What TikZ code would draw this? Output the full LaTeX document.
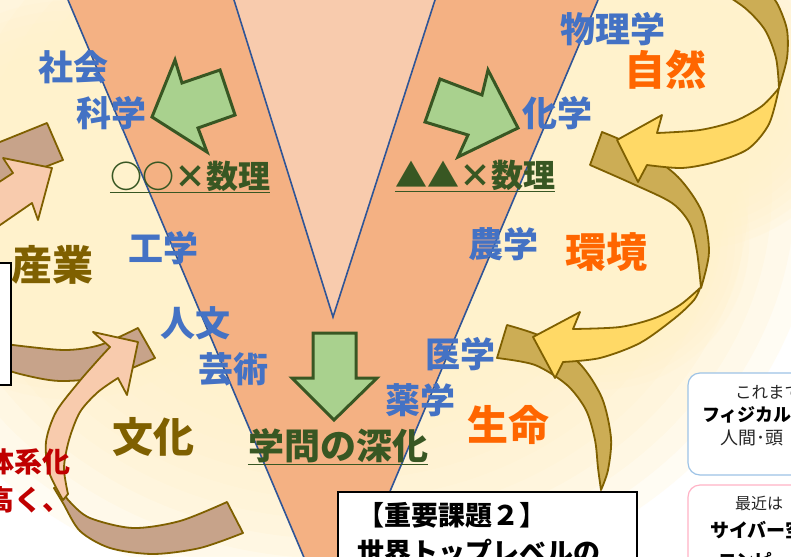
\documentclass[tikz,border=0pt]{standalone}
\usepackage{fontspec}
\newfontfamily\jp{Noto Sans CJK JP}
\definecolor{cream}{HTML}{FFF2CC}
\definecolor{outerv}{HTML}{F4B183}
\definecolor{innerv}{HTML}{F8CBAD}
\definecolor{vline}{HTML}{2F5597}
\definecolor{garrow}{HTML}{A9D18E}
\definecolor{gline}{HTML}{385723}
\definecolor{peach}{HTML}{F8CBAD}
\definecolor{brownb}{HTML}{C7A38A}
\definecolor{ribline}{HTML}{7F6000}
\definecolor{ylw}{HTML}{FFD966}
\definecolor{dgold}{HTML}{CCAD55}
\definecolor{bluet}{HTML}{4472C4}
\definecolor{oranget}{HTML}{FF6600}
\definecolor{goldt}{HTML}{7F6000}
\definecolor{redt}{HTML}{C00000}
\definecolor{boxblue}{HTML}{9DC3E6}
\definecolor{boxpink}{HTML}{FFB3C6}
\definecolor{darkt}{HTML}{262626}
\newcommand\bgglow[3]{%
  \foreach \k in {1,...,12}{%
    \fill[cream, opacity=0.22] (#1) ellipse [x radius={#2*(0.42+0.048*\k)*1pt}, y radius={#3*(0.42+0.048*\k)*1pt}];%
  }%
}
\tikzset{
  lbl/.style={inner sep=0pt, text=bluet, font=\jp\bfseries\fontsize{35}{35}\selectfont},
  bigw/.style={inner sep=0pt, font=\jp\bfseries\fontsize{41}{41}\selectfont},
  grn/.style={inner sep=0pt, text=gline, font=\jp\bfseries\fontsize{32}{32}\selectfont},
  redw/.style={inner sep=0pt, text=redt, font=\jp\bfseries\fontsize{28}{28}\selectfont},
  boxw/.style={inner sep=0pt, text=black, font=\jp\bfseries\fontsize{27}{27}\selectfont},
  smallw/.style={inner sep=0pt, text=darkt, font=\jp\fontsize{16}{16}\selectfont},
  midw/.style={inner sep=0pt, text=black, font=\jp\bfseries\fontsize{18}{18}\selectfont},
  ribbon/.style={draw=ribline, line width=1.8pt, line join=round},
  garr/.style={fill=garrow, draw=gline, line width=3pt, line join=miter},
  vedge/.style={draw=vline, line width=1.6pt},
  uline/.style={draw=gline, line width=1.8pt},
}
\begin{document}
\begin{tikzpicture}[x=1pt,y=-1pt]
\useasboundingbox (0,0) rectangle (791,556);
\clip (0,0) rectangle (791,556);
\fill[white] (0,0) rectangle (791,556);
% background glows
\bgglow{340,190}{480}{410}
\bgglow{70,200}{200}{200}
\bgglow{690,90}{170}{160}
\bgglow{600,240}{150}{150}

% V shapes
\fill[outerv] (68,0) -- (333,626) -- (598,0) -- cycle;
\draw[vedge] (68,0) -- (333,626) -- (598,0);
\fill[innerv] (234,0) -- (333,317) -- (435,0) -- cycle;
\draw[vedge] (234,0) -- (333,317) -- (435,0);

% green arrows
\filldraw[garr] (152,117) -- (175,60) -- (182,83) -- (220,70) -- (235,115) -- (198,128) -- (207,152) -- cycle;
\filldraw[garr] (518,128) -- (488,70) -- (482,95) -- (440,79) -- (425,122) -- (468,135) -- (458,157) -- cycle;
\filldraw[garr] (313,333) -- (356,333) -- (356,378) -- (377,378) -- (334,420) -- (292,378) -- (313,378) -- cycle;

% left ribbons
\filldraw[ribbon, fill=brownb] (-10,146) -- (47,123) -- (63,160) -- (-10,188) -- cycle;
\filldraw[ribbon, fill=peach] (-10,188) -- (13,173) -- (3,158) -- (52,168) -- (38,220) -- (32,203) -- (-10,232) -- cycle;
\filldraw[ribbon, fill=brownb] plot[smooth] coordinates {(-10,342) (30,347) (67,350) (100,345) (138,328)} -- (155,358) -- plot[smooth] coordinates {(155,358) (110,376) (60,381) (20,374) (-10,364)} -- cycle;
\filldraw[ribbon, fill=brownb] plot[smooth] coordinates {(58,486) (70,502) (90,518) (133,528) (180,521) (227,502)} -- (243,533) -- plot[smooth] coordinates {(243,533) (200,548) (153,554) (110,548) (80,531) (63,503) (54,488)} -- cycle;
\filldraw[ribbon, fill=peach] plot[smooth] coordinates {(63,500) (49,472) (46,442) (56,412) (78,383) (98,360) (110,347)} -- (93,332) -- (138,342) -- (127,395) -- (118,378) -- plot[smooth] coordinates {(118,378) (98,392) (80,412) (69,440) (64,468) (68,494)} -- cycle;

% right ribbons
\filldraw[ribbon, fill=dgold] plot[smooth] coordinates {(715,-12) (745,8) (765,30) (776,58) (779,88)} -- plot[smooth] coordinates {(779,88) (787,58) (787,30) (778,5) (766,-12)} -- cycle;
\filldraw[ribbon, fill=dgold] plot[smooth] coordinates {(602,132) (640,149) (678,177) (702,212) (709,252) (701,288)} -- plot[smooth] coordinates {(701,288) (697,252) (690,224) (672,203) (633,184) (590,165)} -- cycle;
\filldraw[ribbon, fill=ylw] plot[smooth] coordinates {(779,88) (762,106) (735,121) (700,130) (657,133)} -- (662,115) -- (617,140) -- (638,182) -- (647,165) -- plot[smooth] coordinates {(647,165) (682,168) (715,162) (748,149) (769,124) (779,88)} -- cycle;
\filldraw[ribbon, fill=dgold] plot[smooth] coordinates {(507,325) (545,338) (580,364) (602,398) (611,438) (608,470) (601,490)} -- plot[smooth] coordinates {(601,490) (598,468) (595,440) (586,410) (567,385) (535,365) (497,358)} -- cycle;
\filldraw[ribbon, fill=ylw] plot[smooth] coordinates {(700,288) (680,305) (655,318) (620,327) (573,329)} -- (580,312) -- (533,337) -- (555,378) -- (563,362) -- plot[smooth] coordinates {(563,362) (600,358) (640,343) (675,318) (694,300) (700,288)} -- cycle;

% boxes
\filldraw[fill=white, draw=black, line width=1.5pt] (-5,263) rectangle (11,385);
\filldraw[fill=white, draw=black, line width=2pt] (338,492) rectangle (637,600);
\filldraw[fill=white, draw=boxblue, line width=1.2pt, rounded corners=12pt] (688,373) rectangle (840,475);
\filldraw[fill=white, draw=boxpink, line width=1.2pt, rounded corners=12pt] (688,485) rectangle (840,620);

% labels
\node[lbl] (sha) at (73,67) {社会};
\node[lbl] (kag) at (111,113) {科学};
\node[lbl] (kou) at (163,248) {工学};
\node[lbl] (jin) at (195,323) {人文};
\node[lbl] (gei) at (233,369) {芸術};
\node[lbl] (igaku) at (460,354) {医学};
\node[lbl] (yaku) at (420,400) {薬学};
\node[lbl] (butsu) at (613,29) {物理学};
\node[lbl] (kagaku) at (557,113) {化学};
\node[lbl] (nou) at (503,244) {農学};

\node[bigw, text=goldt] (sangyo) at (52,265) {産業};
\node[bigw, text=goldt] (bunka) at (153,437) {文化};
\node[bigw, text=oranget] (seimei) at (508,425) {生命};
\node[bigw, text=oranget] (shizen) at (665,70) {自然};
\node[bigw, text=oranget] (kankyo) at (606,252) {環境};

\node[grn] (m1) at (190,176) {○○\makebox[1em]{×}数理};
\draw[uline] ([yshift=-1pt]m1.south west) -- ([yshift=-1pt]m1.south east);
\node[grn] (m2) at (475,175) {▲▲\makebox[1em]{×}数理};
\draw[uline] ([yshift=-1pt]m2.south west) -- ([yshift=-1pt]m2.south east);
\node[grn, font=\jp\bfseries\fontsize{36}{36}\selectfont] (gaku) at (338,446) {学問の深化};
\draw[uline] ([yshift=-1pt]gaku.south west) -- ([yshift=-1pt]gaku.south east);

\node[redw, anchor=east] (red1) at (71,462) {体系化};
\node[redw, anchor=east] (red2) at (71,500) {高く、};

\node[boxw, anchor=west] (bt1) at (357,515) {【重要課題２】};
\node[boxw, anchor=west] (bt2) at (357,552) {世界トップレベルの};

\node[smallw, font=\jp\fontsize{16.5}{16.5}\selectfont, anchor=west] (rb1a) at (735,392) {これまで};
\node[midw, anchor=west] (rb1b) at (702,415) {フィジカル空};
\node[smallw, font=\jp\fontsize{18}{18}\selectfont, anchor=west] (rb1c) at (720,438) {人間･頭};
\node[smallw, anchor=west] (rb2a) at (735,503) {最近は};
\node[midw, font=\jp\bfseries\fontsize{19}{19}\selectfont, anchor=west] (rb2b) at (710,530) {サイバー空};
\node[midw, anchor=west] (rb2c) at (718,560) {コンピ};
\end{tikzpicture}
\end{document}
